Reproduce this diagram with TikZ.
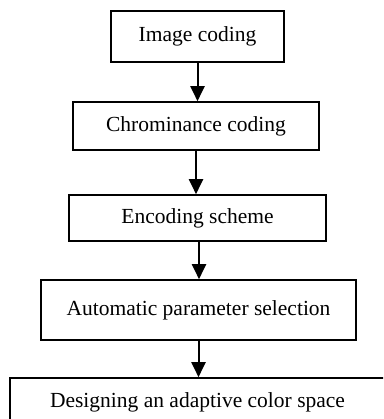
\documentclass[tikz,border=0pt]{standalone}
\usepackage{fontspec}
\setmainfont{Liberation Serif}
\usetikzlibrary{arrows.meta}
\tikzstyle{process} = [rectangle, text centered, draw=black, line width=1.6pt, font=\fontsize{21.5}{25}\selectfont]
\tikzstyle{arrow} = [line width=2pt, -{Triangle[width=14pt,length=15pt]}]

\begin{document}
\begin{tikzpicture}[x=1pt, y=1pt, node distance=92pt]
\useasboundingbox (0,0) rectangle (383,-419);
\clip (0,0) rectangle (383,-419);

\node (img) [process, minimum width=173pt, minimum height=51pt] at (197.5,-36.5) {Image coding};
\node (chroma) [process, below of=img, yshift=2.5pt, xshift=-1.5pt, minimum width=246pt, minimum height=48pt] {Chrominance coding};
\node (enc) [process, below of=chroma, xshift=1.5pt, minimum width=257pt, minimum height=46pt] {Encoding scheme};
\node (param) [process, below of=enc, xshift=1pt, minimum width=315pt, minimum height=60pt] {Automatic parameter selection};
\node (space) [process, below of=param, xshift=-1pt, minimum width=375pt, minimum height=48pt] {Designing an adaptive color space};

% straight down from each box
\draw [arrow] (img.south) -- (img.south |- chroma.north);
\draw [arrow] (chroma.south) -- (chroma.south |- enc.north);
\draw [arrow] ([xshift=1.5pt]enc.south) -- ([xshift=1.5pt]enc.south |- param.north);
\draw [arrow] (param.south) -- (param.south |- space.north);

\end{tikzpicture}
\end{document}
